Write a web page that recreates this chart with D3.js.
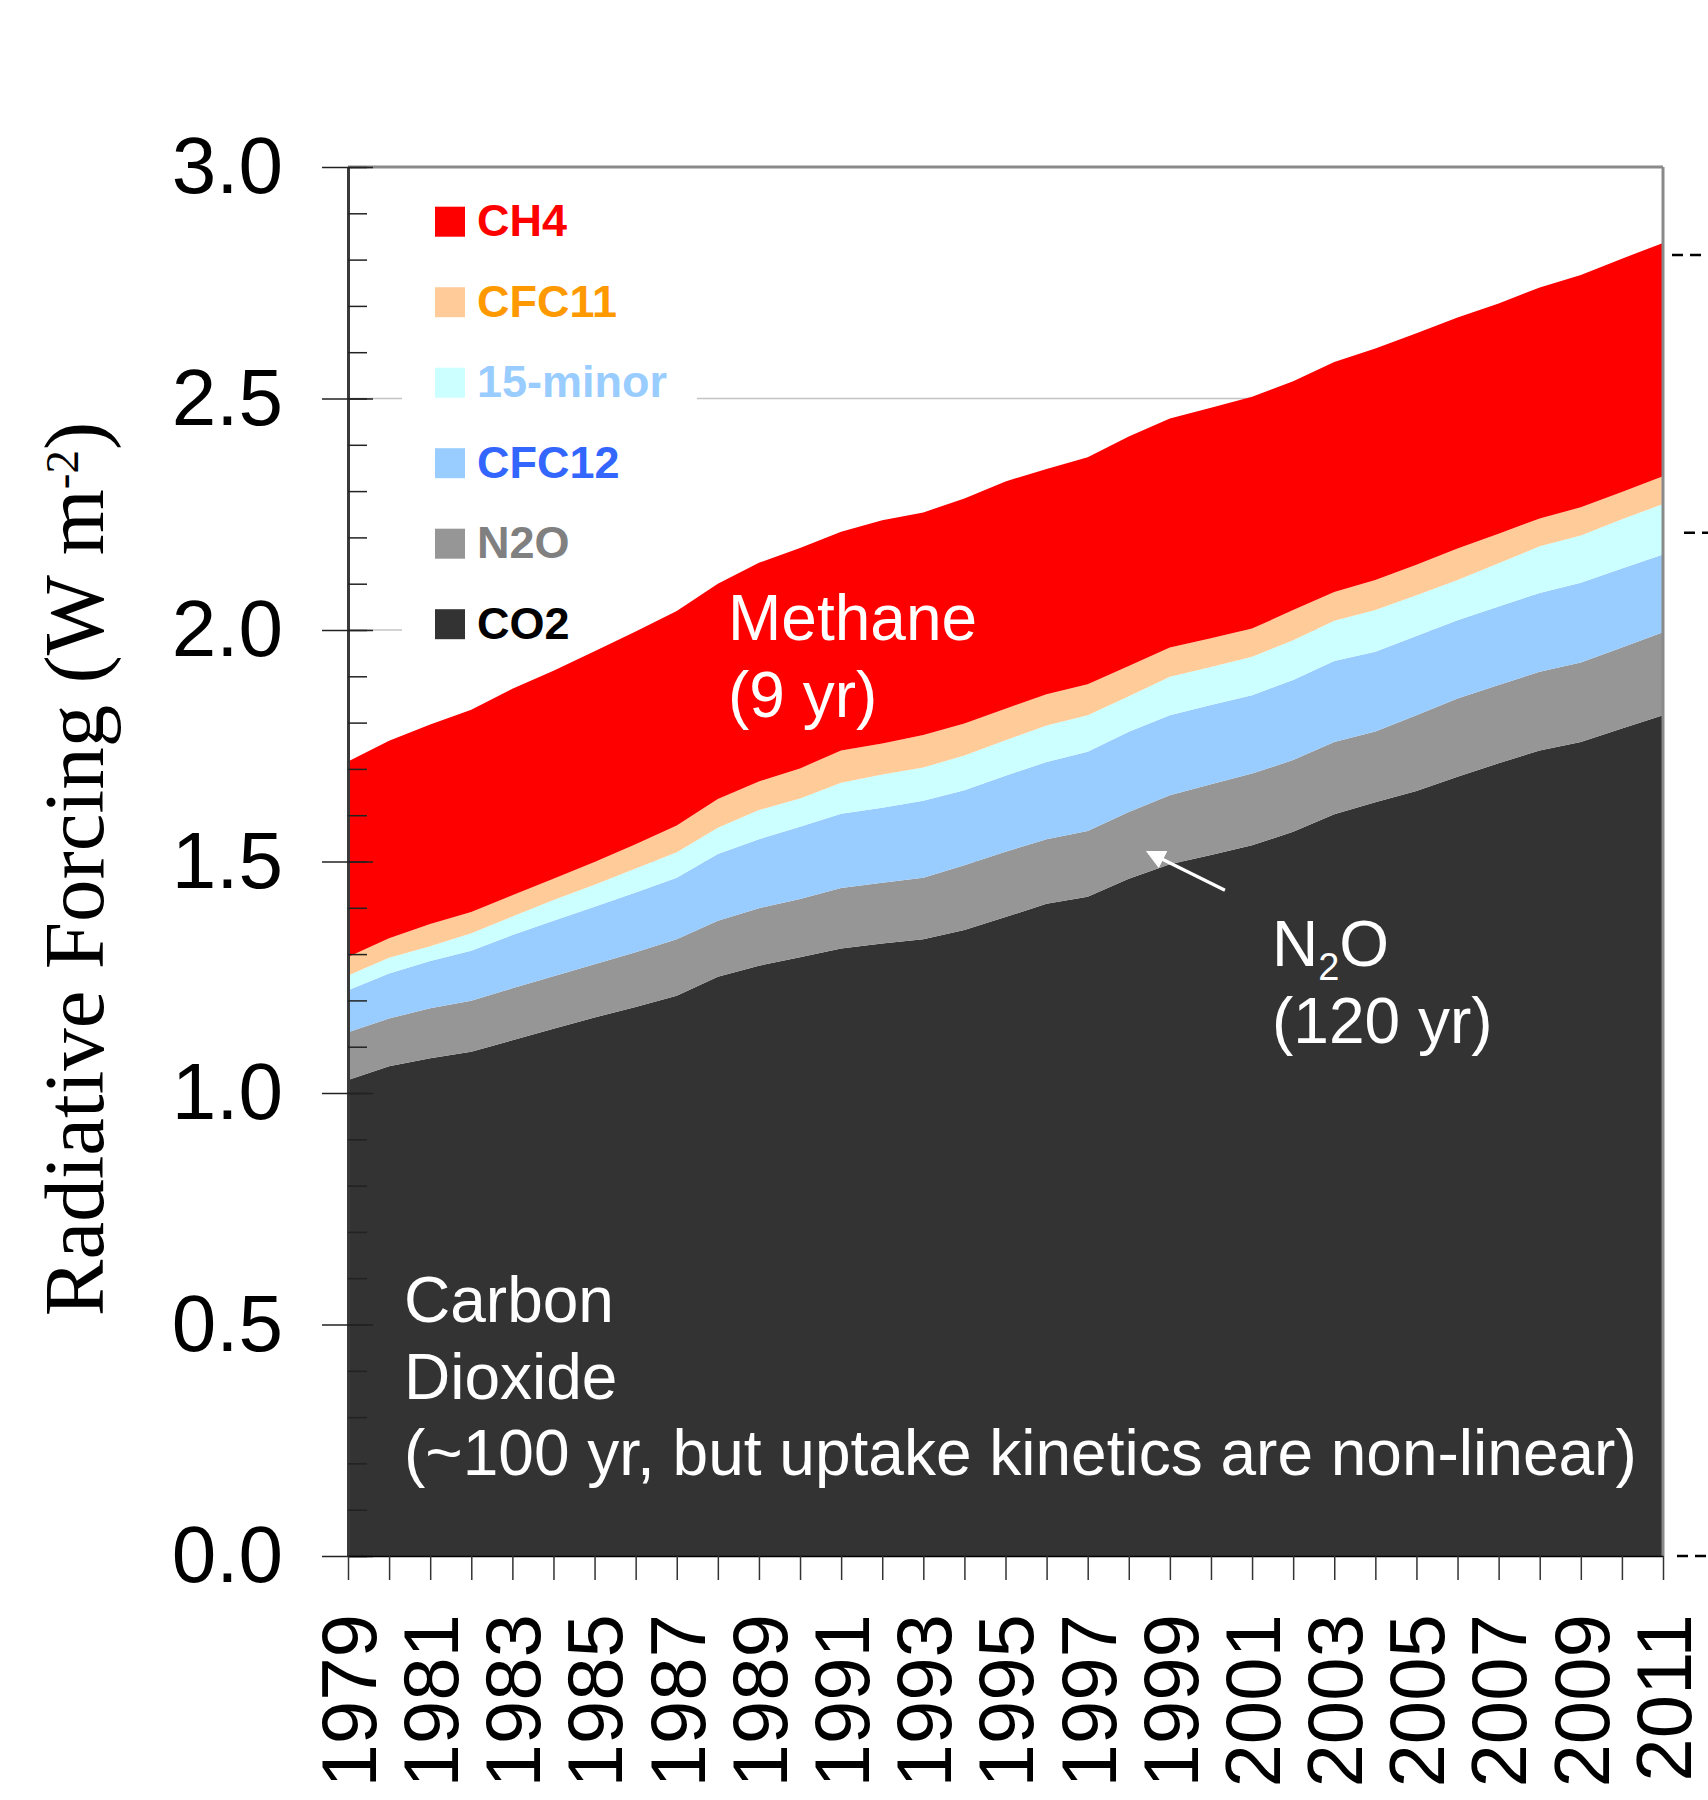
<!DOCTYPE html>
<html><head><meta charset="utf-8">
<script src="https://cdn.jsdelivr.net/npm/d3@7"></script>
<style>body{margin:0;background:#fff}</style>
</head><body>
<svg id="chart" width="1708" height="1800"></svg>
<script>
// ---------- data (W m-2) ----------
const years = [1979,1980,1981,1982,1983,1984,1985,1986,1987,1988,1989,1990,1991,1992,1993,1994,1995,1996,1997,1998,1999,2000,2001,2002,2003,2004,2005,2006,2007,2008,2009,2010,2011];
const co2     = [1.028,1.058,1.075,1.089,1.114,1.139,1.163,1.186,1.210,1.251,1.275,1.293,1.312,1.323,1.332,1.352,1.380,1.409,1.424,1.463,1.494,1.514,1.535,1.564,1.602,1.628,1.652,1.683,1.712,1.740,1.758,1.787,1.816];
const n2o     = [0.103,0.103,0.108,0.110,0.112,0.113,0.115,0.118,0.122,0.121,0.124,0.126,0.131,0.131,0.133,0.140,0.141,0.139,0.142,0.144,0.149,0.153,0.155,0.155,0.156,0.153,0.164,0.169,0.169,0.170,0.172,0.175,0.179];
const cfc12   = [0.091,0.097,0.102,0.108,0.115,0.120,0.124,0.129,0.133,0.144,0.149,0.156,0.160,0.162,0.166,0.162,0.164,0.167,0.171,0.173,0.173,0.171,0.169,0.173,0.175,0.172,0.171,0.169,0.170,0.170,0.172,0.171,0.168];
const minor15 = [0.032,0.034,0.032,0.038,0.040,0.045,0.048,0.052,0.055,0.057,0.063,0.061,0.067,0.072,0.072,0.075,0.077,0.079,0.079,0.077,0.083,0.082,0.083,0.086,0.087,0.090,0.088,0.087,0.093,0.101,0.102,0.106,0.109];
const cfc11   = [0.040,0.042,0.048,0.046,0.046,0.046,0.049,0.052,0.058,0.062,0.062,0.065,0.070,0.067,0.070,0.069,0.068,0.067,0.067,0.065,0.063,0.062,0.061,0.065,0.062,0.065,0.066,0.068,0.064,0.060,0.061,0.059,0.060];
const ch4     = [0.422,0.427,0.431,0.437,0.446,0.449,0.455,0.460,0.463,0.465,0.472,0.476,0.472,0.482,0.481,0.486,0.491,0.487,0.490,0.496,0.495,0.498,0.501,0.494,0.497,0.500,0.500,0.499,0.497,0.499,0.502,0.504,0.504];

const seriesKeys   = ["CO2","N2O","CFC12","15-minor","CFC11","CH4"];
const seriesFill   = ["#333333","#969696","#99ccff","#ccffff","#ffcc99","#ff0000"];
const legendLabels = ["CH4","CFC11","15-minor","CFC12","N2O","CO2"];
const legendSwatch = ["#ff0000","#ffcc99","#ccffff","#99ccff","#969696","#333333"];
const legendText   = ["#ff0000","#ff9900","#99ccff","#3366ff","#808080","#000000"];

const yTickValues = [0,0.5,1.0,1.5,2.0,2.5,3.0];
const yTickLabels = ["0.0","0.5","1.0","1.5","2.0","2.5","3.0"];
const xTickLabels = ["1979","1981","1983","1985","1987","1989","1991","1993","1995","1997","1999","2001","2003","2005","2007","2009","2011"];
const refLevels = [2.81, 2.21, 0.0];
const refStart  = [1672, 1684, 1677];
// arrow annotation (year, value): tail -> head
const arrowFrom = [2000.34, 1.438];
const arrowTo   = [1998.5, 1.519];

// ---------- build ----------
const rows = years.map((yr,i)=>({year:yr,"CO2":co2[i],"N2O":n2o[i],"CFC12":cfc12[i],"15-minor":minor15[i],"CFC11":cfc11[i],"CH4":ch4[i]}));
const stacked = d3.stack().keys(seriesKeys)(rows);

const svg = d3.select("#chart");
const L = 348, R = 1663, T = 167, B = 1556;
const x = d3.scaleLinear().domain([1979, 2011]).range([L, R]);
const y = d3.scaleLinear().domain([0, 3]).range([B, T]);
const SANS = "'Liberation Sans', Arial, sans-serif";

// gridlines
svg.append("g").selectAll("line").data(yTickValues.filter(v=>v>0 && v<3)).join("line")
  .attr("x1", L).attr("x2", R).attr("y1", d=>y(d)).attr("y2", d=>y(d))
  .attr("stroke", "#c4c4c4").attr("stroke-width", 1.5);

// legend background box
svg.append("rect").attr("x", 402).attr("y", 180).attr("width", 295).attr("height", 470).attr("fill", "#fff");

// stacked areas
const area = d3.area().x(d=>x(d.data.year)).y0(d=>y(d[0])).y1(d=>y(d[1]));
svg.append("g").selectAll("path").data(stacked).join("path")
  .attr("d", area).attr("fill", (d,i)=>seriesFill[i]);

// frame (top & right)
svg.append("line").attr("x1", L).attr("x2", R).attr("y1", T).attr("y2", T).attr("stroke", "#8a8a8a").attr("stroke-width", 3);
svg.append("line").attr("x1", R).attr("x2", R).attr("y1", T).attr("y2", B).attr("stroke", "#8a8a8a").attr("stroke-width", 3);

// y axis: outer major ticks + labels
const yAxis = svg.append("g").attr("transform", `translate(${L},0)`)
  .call(d3.axisLeft(y).tickValues(yTickValues).tickFormat((d,i)=>yTickLabels[i]).tickSizeInner(26).tickSizeOuter(0).tickPadding(39));
yAxis.select(".domain").attr("stroke", "#3a3a3a").attr("stroke-width", 3);
yAxis.selectAll(".tick line").attr("stroke", "#222").attr("stroke-width", 1.5);
yAxis.selectAll("text").attr("font-family", SANS).attr("font-size", 80).attr("fill", "#000");
// inner major ticks
const yIn = svg.append("g").attr("transform", `translate(${L},0)`)
  .call(d3.axisRight(y).tickValues(yTickValues).tickFormat("").tickSize(25));
yIn.select(".domain").remove();
yIn.selectAll(".tick line").attr("stroke", "#222").attr("stroke-width", 1.5);
// inner minor ticks
const yMinor = svg.append("g").attr("transform", `translate(${L},0)`)
  .call(d3.axisRight(y).ticks(30).tickFormat("").tickSize(19));
yMinor.select(".domain").remove();
yMinor.selectAll(".tick line").attr("stroke", "#222").attr("stroke-width", 1.5);

// x axis
const xAxis = svg.append("g").attr("transform", `translate(0,${B})`)
  .call(d3.axisBottom(x).tickValues(years).tickSizeInner(24).tickSizeOuter(0)
    .tickFormat(d => xTickLabels.includes(String(d)) ? String(d) : ""));
xAxis.select(".domain").attr("stroke", "#000").attr("stroke-width", 1.5);
xAxis.selectAll(".tick line").attr("stroke", "#333").attr("stroke-width", 1.5);
xAxis.selectAll("text")
  .attr("font-family", SANS).attr("font-size", 78).attr("fill", "#000")
  .attr("transform", "rotate(-90)").attr("x", -58).attr("y", 0).attr("dy", "0.35em")
  .style("text-anchor", "end");

// y axis title
const title = svg.append("text").attr("transform", "translate(103,869) rotate(-90)")
  .attr("text-anchor", "middle").attr("font-family", "'Liberation Serif','Times New Roman',serif")
  .attr("font-size", 85).attr("fill", "#000");
title.append("tspan").text("Radiative Forcing (W m");
title.append("tspan").attr("font-size", 47).attr("dy", -25).text("-2");
title.append("tspan").attr("dy", 25).text(")");

// legend
const lg = svg.append("g");
legendLabels.forEach((lab,i)=>{
  const top = 206.7 + i*80.5;
  lg.append("rect").attr("x", 435).attr("y", top).attr("width", 30).attr("height", 30).attr("fill", legendSwatch[i]);
  lg.append("text").attr("x", 477).attr("y", top+29.5).attr("font-family", SANS).attr("font-weight", "bold")
    .attr("font-size", 45).attr("fill", legendText[i]).text(lab);
});

// annotations
function label(lines, x0, y0, lh){
  const t = svg.append("text").attr("font-family", SANS).attr("font-size", 64).attr("fill", "#fff");
  lines.forEach((ln,i)=>{
    const ts = t.append("tspan").attr("x", x0).attr("y", y0 + i*lh);
    if (Array.isArray(ln)) {
      ts.text(ln[0]);
      t.append("tspan").attr("font-size", 38).attr("dy", 14).text(ln[1]);
      t.append("tspan").attr("dy", -14).text(ln[2]);
    } else ts.text(ln);
  });
}
label(["Methane","(9 yr)"], 728, 640, 76.7);
label([["N","2","O"],"(120 yr)"], 1272, 966, 76.7);
label(["Carbon","Dioxide","(~100 yr, but uptake kinetics are non-linear)"], 404, 1322, 76.7);

// arrow
const defs = svg.append("defs");
defs.append("marker").attr("id","ah").attr("viewBox","0 0 10 10").attr("refX",8).attr("refY",5)
  .attr("markerWidth",6).attr("markerHeight",6).attr("orient","auto")
  .append("path").attr("d","M0,0 L10,5 L0,10 z").attr("fill","#fff");
svg.append("line").attr("x1", x(arrowFrom[0])).attr("y1", y(arrowFrom[1]))
  .attr("x2", x(arrowTo[0])).attr("y2", y(arrowTo[1]))
  .attr("stroke", "#fff").attr("stroke-width", 3.2).attr("marker-end", "url(#ah)");

// right-side reference dashes
svg.append("g").selectAll("line").data(refLevels).join("line")
  .attr("x1", (d,i)=>refStart[i]).attr("x2", 1708).attr("y1", d=>y(d)).attr("y2", d=>y(d))
  .attr("stroke", "#000").attr("stroke-width", 2.5).attr("stroke-dasharray", "11,7");
</script>
</body></html>
